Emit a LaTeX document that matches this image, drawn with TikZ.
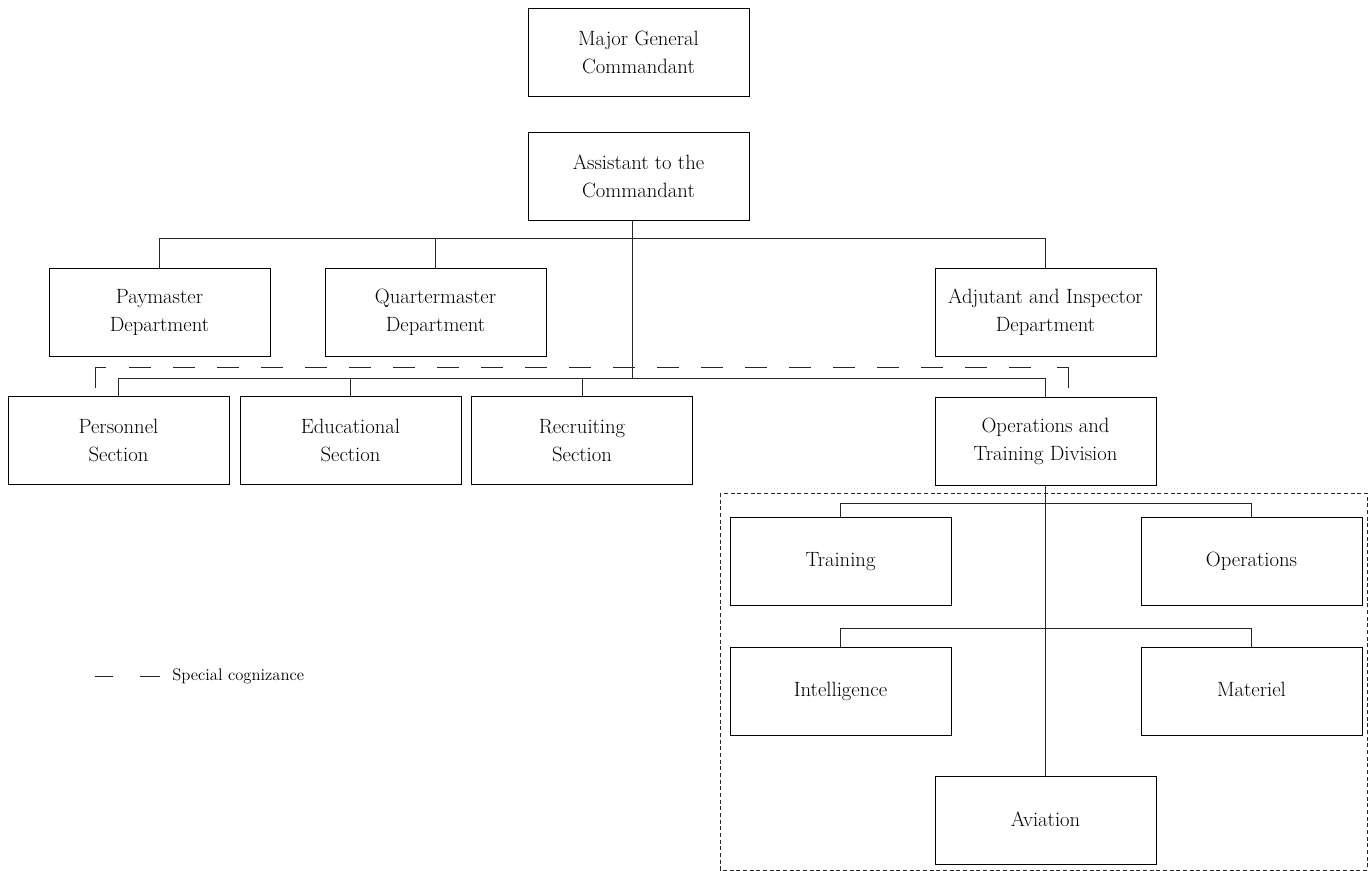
\documentclass[tikz,border=0pt]{standalone}
\usetikzlibrary{calc}
\begin{document}
\begin{tikzpicture}[x=0.75pt,y=-0.75pt,
  box/.style={draw, line width=0.75pt, minimum width=165.75pt, minimum height=66pt, align=center, inner sep=0pt, font=\fontsize{15.5}{21}\selectfont},
  conn/.style={line width=0.6pt, draw=black!85},
  special/.style={line width=0.6pt, draw=black!85},
  group/.style={line width=0.6pt, draw=black!85, dash pattern=on 3pt off 2pt}]
\useasboundingbox (0,0) rectangle (1372,871);
% nodes
\node[box] (maj) at (638.5,52.5) {Major General\\Commandant};
\node[box] (asst) at (638.5,176) {Assistant to the\\Commandant};
\node[box] (pay) at (159.5,312) {Paymaster\\Department};
\node[box] (qm) at (435.5,312) {Quartermaster\\Department};
\node[box] (adj) at (1045.5,312) {Adjutant and Inspector\\Department};
\node[box] (pers) at (118.5,440) {Personnel\\Section};
\node[box] (edu) at (350.5,440) {Educational\\Section};
\node[box] (rec) at (582,440.5) {Recruiting\\Section};
\node[box] (ops) at (1045.5,441) {Operations and\\Training Division};
\node[box] (trn) at (840.5,561) {\strut Training};
\node[box] (opr) at (1251.5,561) {\strut Operations};
\node[box] (int) at (840.5,691) {\strut Intelligence};
\node[box] (mat) at (1251.5,691) {\strut Materiel};
\node[box] (avi) at (1045.5,820.5) {\strut Aviation};
% group frame
\draw[group] (720,493) rectangle (1367,870);
% bus coordinates
\coordinate (b1) at (0,238);
\coordinate (b2) at (0,378);
\coordinate (b3) at (0,503);
\coordinate (b4) at (0,628);
\coordinate (j) at (632,0);
% connectors
\draw[conn] (asst.south -| j) -- (j |- b2);
\draw[conn] (pay.north) |- (adj.north |- b1) -- (adj.north);
\draw[conn] (qm.north) -- (qm.north |- b1);
\draw[conn] (pers.north) |- (ops.north |- b2) -- (ops.north);
\draw[conn] (edu.north) -- (edu.north |- b2);
\draw[conn] (rec.north) -- (rec.north |- b2);
\draw[conn] (ops.south) -- (avi.north);
\draw[conn] (trn.north) |- (opr.north |- b3) -- (opr.north);
\draw[conn] (int.north) |- (mat.north |- b4) -- (mat.north);
% special cognizance line
\coordinate (s1) at (95,388);
\coordinate (s2) at (95,367);
\coordinate (s3) at (106,367);
\coordinate (s4) at (129,367);
\coordinate (s5) at (1035,367);
\coordinate (s6) at (1057,367);
\coordinate (s7) at (1068,367);
\coordinate (s8) at (1068,388);
\draw[special] (s1) -- (s2) -- (s3);
\draw[special, dash pattern=on 16.5pt off 16.5pt] (s4) -- (s5);
\draw[special] (s6) -- (s7) -- (s8);
% legend
\coordinate (l1) at (95,676);
\coordinate (l2) at (113,676);
\coordinate (l3) at (140,676);
\coordinate (l4) at (160,676);
\draw[special] (l1) -- (l2);
\draw[special] (l3) -- (l4);
\node[anchor=west, inner sep=0pt, font=\fontsize{12.5}{14}\selectfont] (leg) at (172,676) {Special cognizance};
\end{tikzpicture}
\end{document}
